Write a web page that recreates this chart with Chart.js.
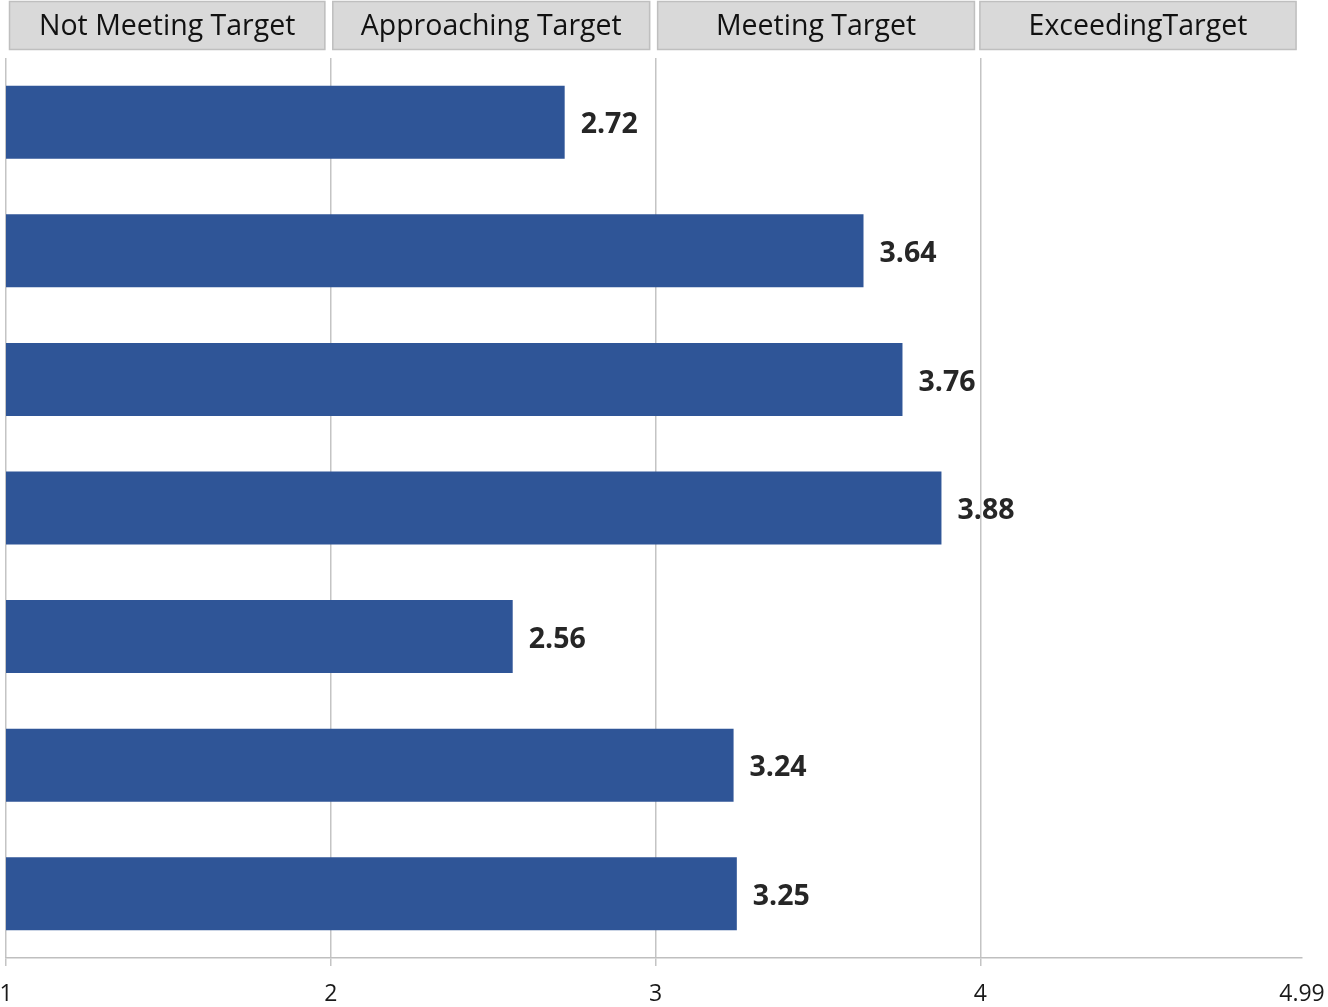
<!DOCTYPE html>
<html>
<head>
<meta charset="utf-8">
<script src="https://cdn.jsdelivr.net/npm/chart.js@4/dist/chart.umd.min.js"></script>
<style>
html,body{margin:0;padding:0;background:#fff;}
#wrap{width:1328px;height:1007px;position:relative;}
</style>
</head>
<body>
<div id="wrap"><canvas id="c"></canvas></div>
<script>
const categories = ["1", "2", "3", "4", "5", "6", "7"];
const values = [2.72, 3.64, 3.76, 3.88, 2.56, 3.24, 3.25];
const xTicks = [1, 2, 3, 4, 4.99];
const bandLabels = ["Not Meeting Target", "Approaching Target", "Meeting Target", "ExceedingTarget"];
const bandBounds = [1, 2, 3, 4, 4.99];

const FONT = "'Open Sans', 'DejaVu Sans', sans-serif";

const bandPlugin = {
  id: 'bands',
  afterDraw(chart) {
    const ctx = chart.ctx;
    const x = chart.scales.x;
    ctx.save();
    for (let i = 0; i < bandLabels.length; i++) {
      const l = x.getPixelForValue(bandBounds[i]) + (i === 0 ? 3 : i === 3 ? -1 : 1.5);
      const r = x.getPixelForValue(bandBounds[i + 1]) - 5.5;
      ctx.fillStyle = '#D9D9D9';
      ctx.fillRect(l, 1, r - l, 49);
      ctx.strokeStyle = '#BFBFBF';
      ctx.lineWidth = 1.5;
      ctx.strokeRect(l + 0.5, 1.5, r - l - 1, 48);
      ctx.fillStyle = '#111111';
      ctx.font = '28.5px ' + FONT;
      ctx.textAlign = 'center';
      ctx.textBaseline = 'middle';
      ctx.fillText(bandLabels[i], (l + r) / 2, 27);
    }
    ctx.restore();
  }
};

const labelPlugin = {
  id: 'vals',
  afterDatasetsDraw(chart) {
    const ctx = chart.ctx;
    const meta = chart.getDatasetMeta(0);
    ctx.save();
    ctx.fillStyle = '#262626';
    ctx.font = 'bold 28.5px ' + FONT;
    ctx.textAlign = 'left';
    ctx.textBaseline = 'middle';
    meta.data.forEach((bar, i) => {
      ctx.fillText(values[i].toFixed(2), bar.x + 16, bar.y + 3);
    });
    ctx.restore();
  }
};

new Chart(document.getElementById('c'), {
  type: 'bar',
  data: {
    labels: categories,
    datasets: [{
      data: values,
      backgroundColor: '#2F5597',
      borderWidth: 0,
      barPercentage: 0.568,
      categoryPercentage: 1.0
    }]
  },
  options: {
    indexAxis: 'y',
    responsive: true,
    maintainAspectRatio: false,
    animation: false,
    layout: { padding: { left: 6, right: 26, top: 58, bottom: 0 } },
    plugins: { legend: { display: false }, tooltip: { enabled: false } },
    scales: {
      x: {
        type: 'linear',
        min: 1,
        max: 4.99,
        afterBuildTicks(scale) { scale.ticks = xTicks.map(v => ({ value: v })); },
        afterFit(scale) {
          scale.paddingLeft = 0;
          scale.paddingRight = 0;
          scale.height = 49;
        },
        ticks: {
          autoSkip: false,
          maxRotation: 0,
          padding: 15,
          color: '#1a1a1a',
          font: { family: FONT, size: 23 },
          callback: (v) => String(v)
        },
        grid: {
          color: (c) => (c.tick && c.tick.value === 4.99) ? 'rgba(0,0,0,0)' : '#C4C4C4',
          lineWidth: 1.5,
          tickLength: 8,
          drawOnChartArea: true,
          drawTicks: true
        },
        border: { display: true, color: '#BFBFBF', width: 1.5 }
      },
      y: {
        display: false,
        grid: { display: false }
      }
    }
  },
  plugins: [bandPlugin, labelPlugin]
});
</script>
</body>
</html>
